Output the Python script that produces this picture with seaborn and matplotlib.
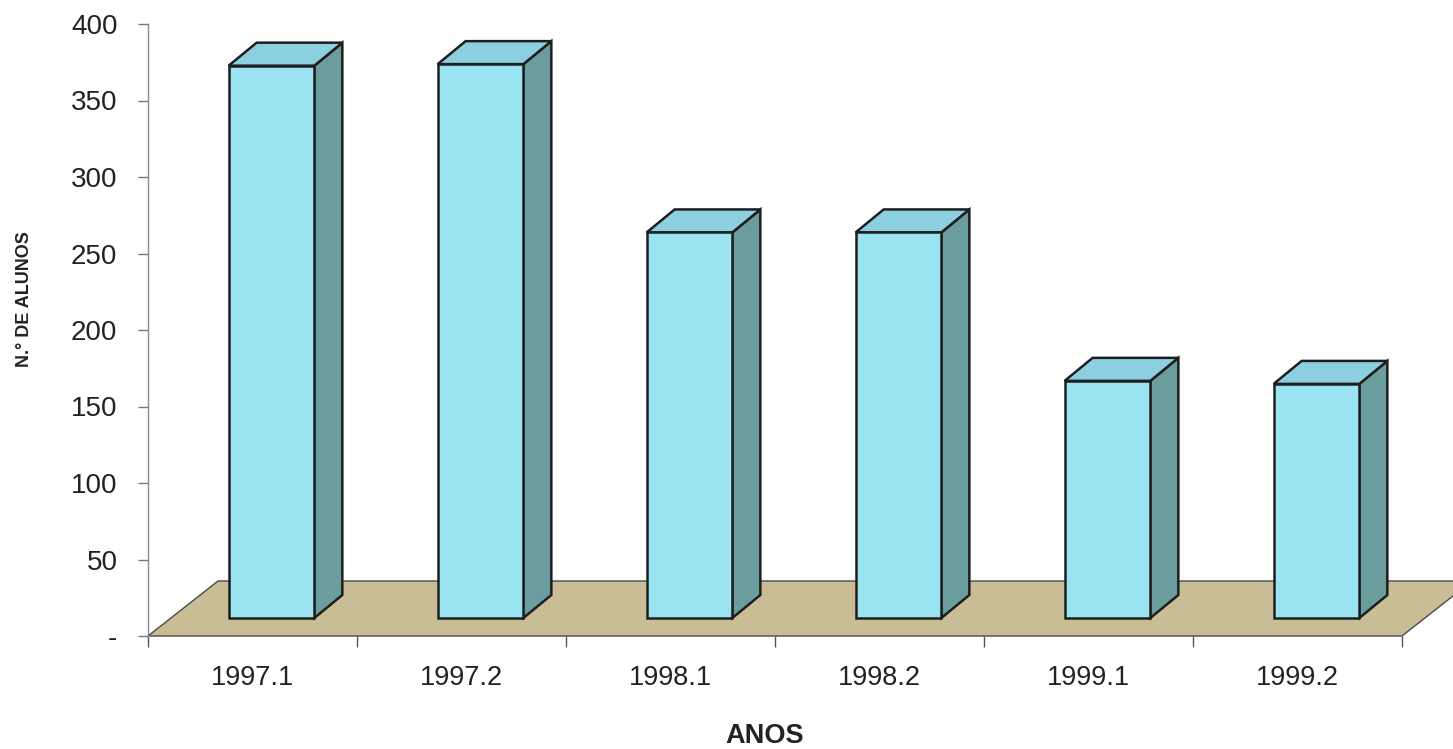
import matplotlib
matplotlib.use("Agg")
import numpy as np
import pandas as pd
import matplotlib.pyplot as plt
import seaborn as sns
from matplotlib.patches import Polygon

sns.set_style("white")
plt.rcParams['font.family'] = ['Liberation Sans', 'DejaVu Sans']

# dados
periodos = ["1997.1", "1997.2", "1998.1", "1998.2", "1999.1", "1999.2"]
alunos = [361, 362, 252, 252, 155, 153]
y_ticks = [0, 50, 100, 150, 200, 250, 300, 350, 400]
y_labels = ["-", "50", "100", "150", "200", "250", "300", "350", "400"]

df = pd.DataFrame({"ANOS": periodos, "Alunos": alunos})

W, H = 1453, 749
fig = plt.figure(figsize=(W / 100, H / 100), dpi=100)
ax = fig.add_axes([148 / W, 113 / H, 1254 / W, 612 / H])

front_col = "#9ae4f1"
top_col = "#8ccfe0"
side_col = "#6b9d9e"
floor_col = "#c9bd95"
edge_col = "#1e1e1e"

sns.barplot(data=df, x="ANOS", y="Alunos", width=0.41, color=front_col,
            saturation=1, edgecolor=edge_col, linewidth=1.8, ax=ax, zorder=3)
ax.set_xlim(-0.5, 5.5)
ax.set_ylim(0, 400)

bars = list(ax.patches)


def shift(x, y, dx, dy):
    # desloca um ponto em pixels (efeito 3D) e volta para coordenadas de dados
    px, py = ax.transData.transform((x, y))
    return ax.transData.inverted().transform((px + dx, py + dy))


# piso
floor_pts = [(-0.5, 0), (5.5, 0), shift(5.5, 0, 70, 55), shift(-0.5, 0, 70, 55)]
ax.add_patch(Polygon(floor_pts, closed=True, facecolor=floor_col,
                     edgecolor="#4a4a4a", lw=1.0, zorder=1, clip_on=False))

# barras com profundidade
for p in bars:
    x0, w, h = p.get_x(), p.get_width(), p.get_height()
    fx, fy = shift(x0, 0, 19, 18)
    p.set_x(fx)
    p.set_y(fy)
    x1 = fx + w
    y1 = fy + h
    side = [(x1, fy), (x1, y1), shift(x1, y1, 28, 23), shift(x1, fy, 28, 23)]
    top = [(fx, y1), (x1, y1), shift(x1, y1, 28, 23), shift(fx, y1, 28, 23)]
    ax.add_patch(Polygon(side, closed=True, facecolor=side_col,
                         edgecolor=edge_col, lw=1.8, zorder=2))
    ax.add_patch(Polygon(top, closed=True, facecolor=top_col,
                         edgecolor=edge_col, lw=1.8, zorder=2))

# eixos
ax.set_yticks(y_ticks, y_labels)
ax.tick_params(axis="y", length=7, width=1, color="#777777", pad=15,
               labelsize=20, labelcolor="#222222", left=True)
ax.set_xticks(np.arange(-0.5, 6, 1.0))
ax.set_xticklabels([])
ax.set_xticks(range(len(periodos)), periodos, minor=True)
ax.tick_params(axis="x", which="major", length=8, width=1, color="#555555",
               bottom=True)
ax.tick_params(axis="x", which="minor", length=0, pad=21, labelsize=19.5,
               labelcolor="#222222")
ax.set_xlabel("")
ax.set_ylabel("")

for s in ["top", "right", "bottom"]:
    ax.spines[s].set_visible(False)
ax.spines["left"].set_color("#8a8a9a")
ax.spines["left"].set_linewidth(1.0)

fig.text(25 / W, 1 - 299 / H, "N.° DE ALUNOS", rotation=90, fontsize=13,
         fontweight="bold", ha="center", va="center", color="#222222")
fig.text(765 / W, 1 - 736 / H, "ANOS", fontsize=19.5, fontweight="bold",
         ha="center", va="center", color="#222222")

fig.savefig("out.png", dpi=100, facecolor="white")
